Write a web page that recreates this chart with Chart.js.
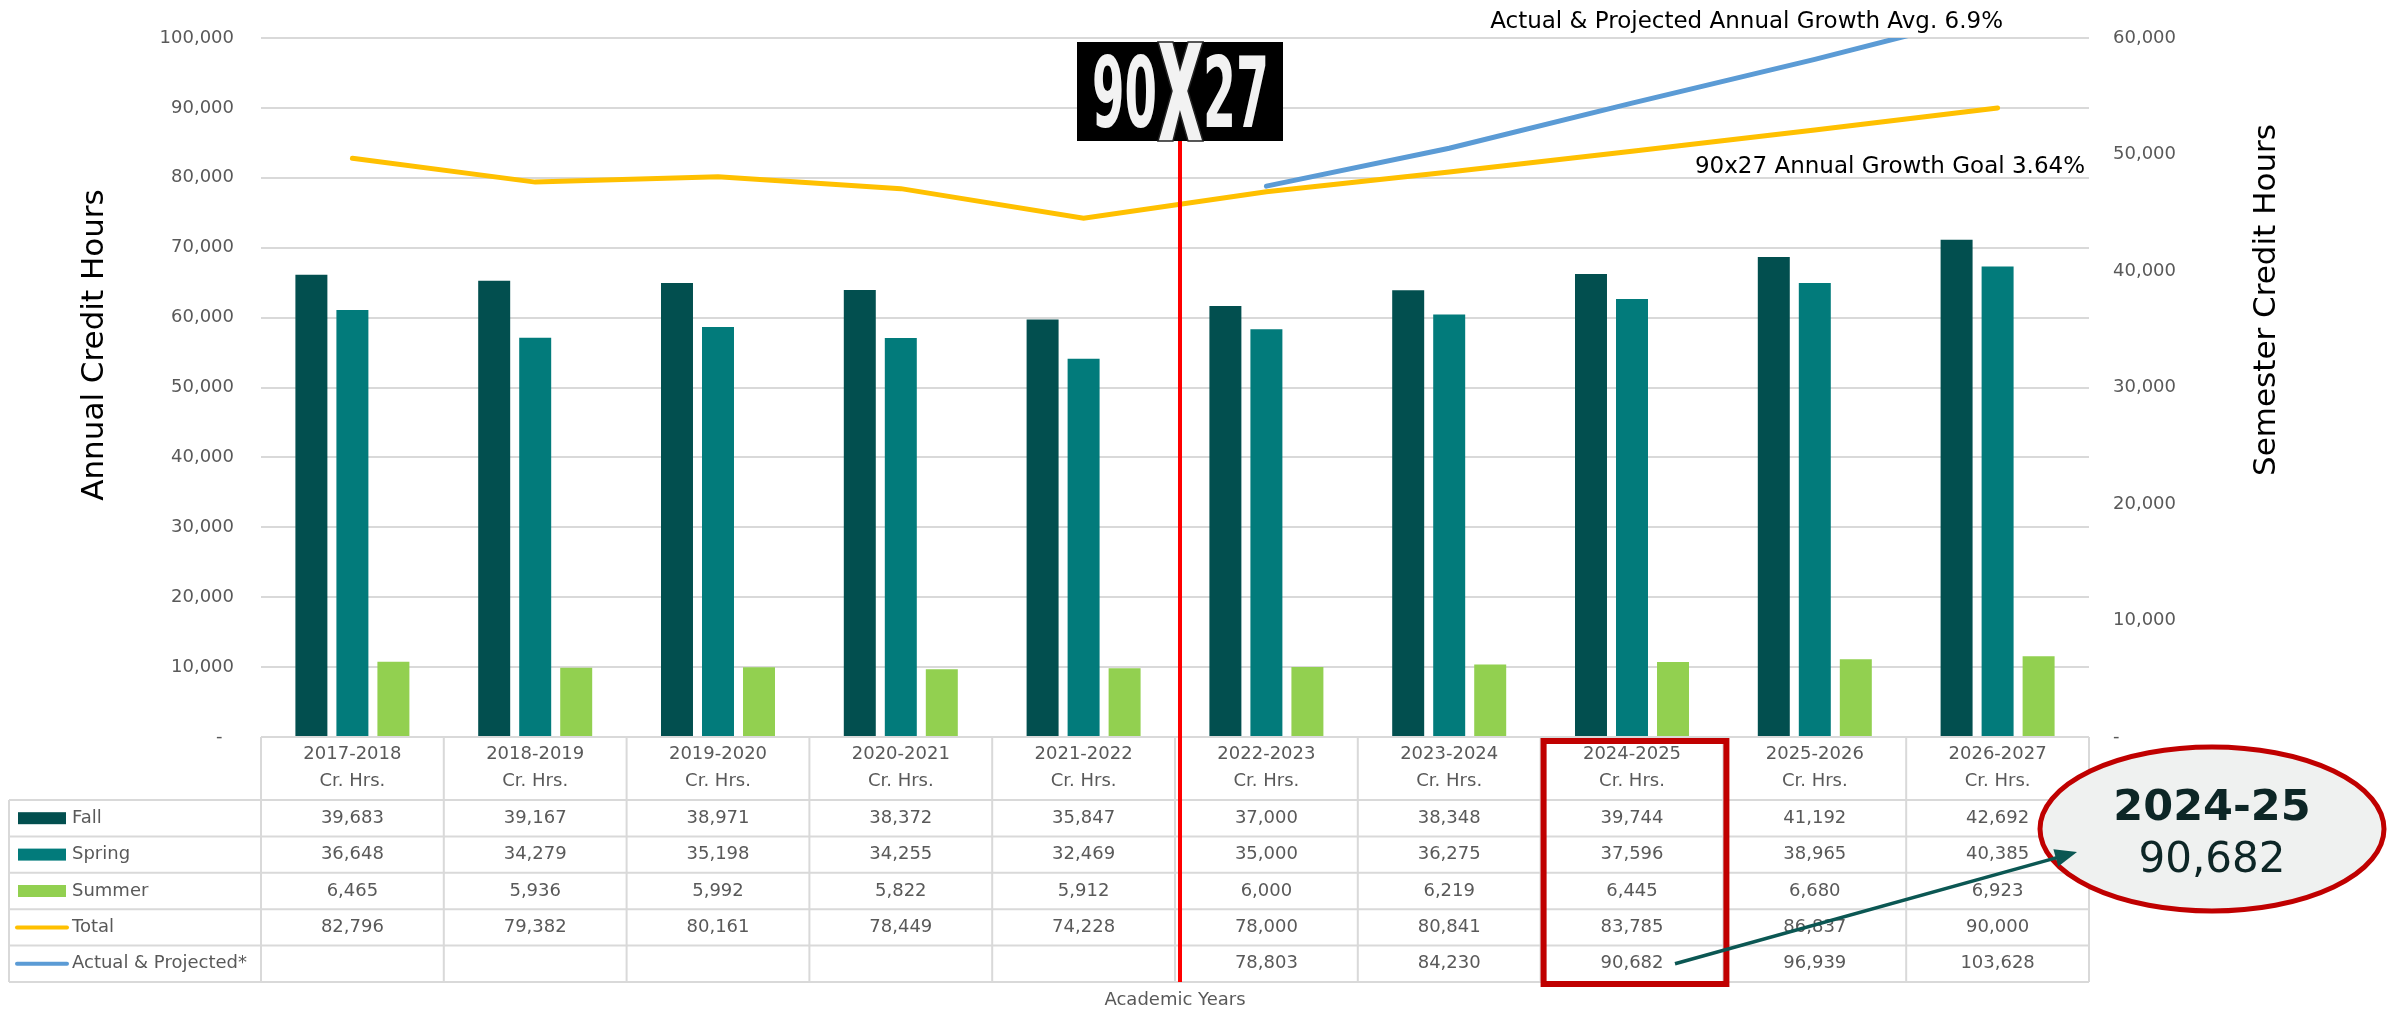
<!DOCTYPE html>
<html lang="en">
<head>
<meta charset="UTF-8" />
<title>Annual Credit Hours - 90x27</title>
<script src="https://cdn.jsdelivr.net/npm/chart.js"></script>
<style>
  body { margin: 0; background: #fff; overflow: hidden; }
</style>
</head>
<body>
<canvas id="chart" width="2394" height="1013"></canvas>
<script>
// academic years (columns of the data table)
const years = ['2017-2018', '2018-2019', '2019-2020', '2020-2021', '2021-2022',
               '2022-2023', '2023-2024', '2024-2025', '2025-2026', '2026-2027'];

// semester credit hours (right axis)
const fall   = [39683, 39167, 38971, 38372, 35847, 37000, 38348, 39744, 41192, 42692];
const spring = [36648, 34279, 35198, 34255, 32469, 35000, 36275, 37596, 38965, 40385];
const summer = [6465, 5936, 5992, 5822, 5912, 6000, 6219, 6445, 6680, 6923];

// annual credit hours (left axis)
const total     = [82796, 79382, 80161, 78449, 74228, 78000, 80841, 83785, 86837, 90000];
const projected = [null, null, null, null, null, 78803, 84230, 90682, 96939, 103628];

const leftMax = 100000;
const rightMax = 60000;
const tickStep = 10000;

const calloutYear = '2024-25';
const calloutIndex = 7;

const FONT = '"DejaVu Sans", Verdana, sans-serif';
const GRAY = '#595959';
const GRID = '#d9d9d9';
const C_FALL = '#024f4f';
const C_SPRING = '#027b7b';
const C_SUMMER = '#92d050';
const C_TOTAL = '#ffc000';
const C_PROJ = '#5b9bd5';

function fmt(v) { return v.toLocaleString('en-US'); }

const tableRows = [
  { name: 'Fall', values: fall, color: C_FALL, key: 'box' },
  { name: 'Spring', values: spring, color: C_SPRING, key: 'box' },
  { name: 'Summer', values: summer, color: C_SUMMER, key: 'box' },
  { name: 'Total', values: total, color: C_TOTAL, key: 'line' },
  { name: 'Actual & Projected*', values: projected, color: C_PROJ, key: 'line' }
];

// draw text squeezed into a box (used for the logo), font is 100px, cap height ~72px
function drawFit(ctx, text, left, top, w, h, font) {
  ctx.save();
  ctx.font = font;
  const tw = ctx.measureText(text).width;
  ctx.translate(left, top + h);
  ctx.scale(w / tw, h / 72);
  ctx.textAlign = 'left';
  ctx.textBaseline = 'alphabetic';
  ctx.fillText(text, 0, 0);
  ctx.restore();
}

const extras = {
  id: 'extras',
  afterDraw(chart) {
    const { ctx, chartArea: a, scales } = chart;
    const n = years.length;
    const colW = (a.right - a.left) / n;
    const headTop = a.bottom;
    const headBottom = headTop + 63;
    const rowH = 36.4;
    const tableBottom = headBottom + rowH * tableRows.length;
    const tableLeft = 9;

    ctx.save();

    // data table grid
    ctx.strokeStyle = GRID;
    ctx.lineWidth = 2;
    ctx.beginPath();
    ctx.moveTo(a.left, headTop); ctx.lineTo(a.right, headTop);
    for (let r = 0; r <= tableRows.length; r++) {
      const y = headBottom + r * rowH;
      ctx.moveTo(tableLeft, y); ctx.lineTo(a.right, y);
    }
    ctx.moveTo(tableLeft, headBottom); ctx.lineTo(tableLeft, tableBottom);
    for (let i = 0; i <= n; i++) {
      const x = a.left + i * colW;
      ctx.moveTo(x, headTop); ctx.lineTo(x, tableBottom);
    }
    ctx.stroke();

    // table rows
    ctx.font = '18px ' + FONT;
    ctx.textBaseline = 'middle';
    tableRows.forEach((row, r) => {
      const y = headBottom + r * rowH + rowH / 2;
      ctx.fillStyle = GRAY;
      ctx.textAlign = 'center';
      row.values.forEach((v, i) => {
        if (v == null) return;
        ctx.fillText(fmt(v), scales.x.getPixelForValue(i), y);
      });
      if (row.key === 'box') {
        ctx.fillStyle = row.color;
        ctx.fillRect(18, y - 6, 48, 12);
      } else {
        ctx.strokeStyle = row.color;
        ctx.lineWidth = 4;
        ctx.lineCap = 'round';
        ctx.beginPath();
        ctx.moveTo(17, y); ctx.lineTo(67, y);
        ctx.stroke();
      }
      ctx.fillStyle = GRAY;
      ctx.textAlign = 'left';
      ctx.fillText(row.name, 72, y);
    });

    // axis titles
    ctx.fillStyle = '#000';
    ctx.font = '31px ' + FONT;
    ctx.textAlign = 'center';
    ctx.save();
    ctx.translate(95, 345);
    ctx.rotate(-Math.PI / 2);
    ctx.fillText('Annual Credit Hours', 0, 0);
    ctx.restore();
    ctx.save();
    ctx.translate(2267, 300);
    ctx.rotate(-Math.PI / 2);
    ctx.fillText('Semester Credit Hours', 0, 0);
    ctx.restore();

    // growth notes
    ctx.font = '23px ' + FONT;
    ctx.textAlign = 'right';
    ctx.fillText('Actual & Projected Annual Growth Avg. 6.9%', 2003, 22);
    ctx.fillText('90x27 Annual Growth Goal 3.64%', a.right - 4, 167);

    // red divider between actual and projected years
    const divX = (scales.x.getPixelForValue(4) + scales.x.getPixelForValue(5)) / 2 + 5;
    ctx.strokeStyle = '#ff0000';
    ctx.lineWidth = 4;
    ctx.lineCap = 'butt';
    ctx.beginPath();
    ctx.moveTo(divX, a.top + 100);
    ctx.lineTo(divX, tableBottom);
    ctx.stroke();

    // 90X27 logo
    const logoTop = a.top + 4;
    ctx.fillStyle = '#000';
    ctx.fillRect(divX - 103, logoTop, 206, 99);
    ctx.fillStyle = '#f2f2f2';
    const logoFont = 'bold 100px "Liberation Sans Narrow", "DejaVu Sans Condensed", sans-serif';
    drawFit(ctx, '90', divX - 88, logoTop + 15, 65, 70, logoFont);
    drawFit(ctx, '27', divX + 23, logoTop + 15, 66, 70, logoFont);
    ctx.save();
    ctx.strokeStyle = '#222';
    ctx.lineWidth = 1.5;
    ctx.fillStyle = '#f2f2f2';
    ctx.beginPath();
    const xl = divX - 22, xr = divX + 23, xt = logoTop, xb = logoTop + 99, xm = logoTop + 49;
    ctx.moveTo(xl, xt); ctx.lineTo(xl + 15, xt); ctx.lineTo(divX, xm - 22);
    ctx.lineTo(xr - 15, xt); ctx.lineTo(xr, xt); ctx.lineTo(divX + 8, xm);
    ctx.lineTo(xr, xb); ctx.lineTo(xr - 15, xb); ctx.lineTo(divX, xm + 22);
    ctx.lineTo(xl + 15, xb); ctx.lineTo(xl, xb); ctx.lineTo(divX - 8, xm);
    ctx.closePath();
    ctx.fill();
    ctx.stroke();
    ctx.restore();

    // box around the highlighted year column
    const colLeft = a.left + calloutIndex * colW;
    ctx.strokeStyle = '#c00000';
    ctx.lineWidth = 6;
    ctx.strokeRect(colLeft + 3, headTop + 4, colW, tableBottom - headTop - 2);

    // callout ellipse
    const ex = 2212, ey = 829;
    ctx.beginPath();
    ctx.ellipse(ex, ey, 172, 82, 0, 0, Math.PI * 2);
    ctx.fillStyle = '#eff1f0';
    ctx.fill();
    ctx.lineWidth = 5;
    ctx.strokeStyle = '#c00000';
    ctx.stroke();
    ctx.fillStyle = '#0d2626';
    ctx.textAlign = 'center';
    ctx.textBaseline = 'alphabetic';
    ctx.font = 'bold 43px ' + FONT;
    ctx.fillText(calloutYear, ex, ey - 9);
    ctx.font = '42px ' + FONT;
    ctx.fillText(fmt(projected[calloutIndex]), ex, ey + 43);

    // arrow from table cell to callout
    const ax0 = scales.x.getPixelForValue(calloutIndex) + 43;
    const ay0 = headBottom + 4 * rowH + rowH / 2;
    const ax1 = ex - 135, ay1 = ey + 23;
    const ang = Math.atan2(ay1 - ay0, ax1 - ax0);
    ctx.strokeStyle = '#0b5753';
    ctx.fillStyle = '#0b5753';
    ctx.lineWidth = 3.5;
    ctx.beginPath();
    ctx.moveTo(ax0, ay0);
    ctx.lineTo(ax1 - 18 * Math.cos(ang), ay1 - 18 * Math.sin(ang));
    ctx.stroke();
    ctx.beginPath();
    ctx.moveTo(ax1, ay1);
    ctx.lineTo(ax1 - 22 * Math.cos(ang) + 9 * Math.sin(ang), ay1 - 22 * Math.sin(ang) - 9 * Math.cos(ang));
    ctx.lineTo(ax1 - 22 * Math.cos(ang) - 9 * Math.sin(ang), ay1 - 22 * Math.sin(ang) + 9 * Math.cos(ang));
    ctx.closePath();
    ctx.fill();

    ctx.restore();
  }
};

const tickFont = { family: FONT, size: 18 };

new Chart(document.getElementById('chart').getContext('2d'), {
  type: 'bar',
  data: {
    labels: years.map(y => [y, 'Cr. Hrs.']),
    datasets: [
      { type: 'line', label: 'Total', data: total, yAxisID: 'y', borderColor: C_TOTAL, borderWidth: 5,
        pointRadius: 0, tension: 0, borderCapStyle: 'round', order: 0 },
      { type: 'line', label: 'Actual & Projected*', data: projected, yAxisID: 'y', borderColor: C_PROJ, borderWidth: 5,
        pointRadius: 0, tension: 0, borderCapStyle: 'round', order: 0 },
      { label: 'Fall', data: fall, yAxisID: 'y1', backgroundColor: C_FALL, order: 1,
        barPercentage: 0.78, categoryPercentage: 0.673 },
      { label: 'Spring', data: spring, yAxisID: 'y1', backgroundColor: C_SPRING, order: 1,
        barPercentage: 0.78, categoryPercentage: 0.673 },
      { label: 'Summer', data: summer, yAxisID: 'y1', backgroundColor: C_SUMMER, order: 1,
        barPercentage: 0.78, categoryPercentage: 0.673 }
    ]
  },
  options: {
    responsive: false,
    animation: false,
    layout: { padding: { top: 38, left: 0, right: 0, bottom: 0 } },
    plugins: { legend: { display: false }, tooltip: { enabled: false } },
    scales: {
      x: {
        grid: { display: false, drawTicks: false },
        border: { display: false },
        ticks: { color: GRAY, font: { family: FONT, size: 18, lineHeight: 1.5 }, padding: 4,
                 maxRotation: 0, autoSkip: false },
        title: { display: true, text: 'Academic Years', color: GRAY,
                 font: { family: FONT, size: 18, lineHeight: 1.2 }, padding: { top: 0, bottom: 2 } },
        afterFit: s => { s.height = 276; }
      },
      y: {
        position: 'left', min: 0, max: leftMax,
        grid: { color: GRID, lineWidth: 2, drawTicks: false },
        border: { display: false },
        ticks: { stepSize: tickStep, padding: 27, color: GRAY, font: tickFont,
                 callback: v => v === 0 ? '-  ' : fmt(v) },
        afterFit: s => { s.width = 261; }
      },
      y1: {
        position: 'right', min: 0, max: rightMax,
        grid: { display: false, drawTicks: false },
        border: { display: false },
        ticks: { stepSize: tickStep, padding: 24, color: GRAY, font: tickFont,
                 callback: v => v === 0 ? '-' : fmt(v) },
        afterFit: s => { s.width = 305; }
      }
    }
  },
  plugins: [extras]
});
</script>
</body>
</html>
